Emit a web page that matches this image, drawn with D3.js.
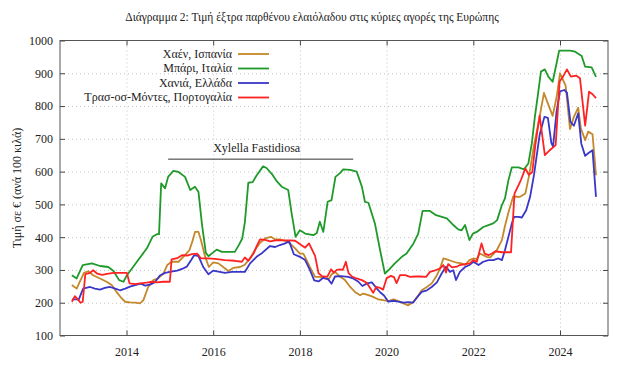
<!DOCTYPE html>
<html>
<head>
<meta charset="utf-8">
<script src="https://cdn.jsdelivr.net/npm/d3@7"></script>
<style>
body { margin: 0; background: #fff; }
svg text { font-family: "Liberation Serif", "Times New Roman", "DejaVu Serif", serif !important; fill: #222; }
.grid line { stroke: #c4c4c4; stroke-dasharray: 1,3; }
.grid path { display: none; }
.axis path { display: none; }
.axis line { stroke: #444; }
</style>
</head>
<body>
<div id="chart"></div>
<script>
// [year, price per 100 kg]
var jaen = [[2012.74,254],[2012.85,243],[2012.94,269],[2013.02,291],[2013.12,296],[2013.23,284],[2013.39,274],[2013.54,264],[2013.66,254],[2013.77,233],[2013.89,213],[2013.97,203],[2014.08,201],[2014.20,200],[2014.31,198],[2014.39,208],[2014.50,248],[2014.62,269],[2014.73,274],[2014.85,289],[2014.94,315],[2015.04,325],[2015.20,325],[2015.35,345],[2015.45,360],[2015.53,391],[2015.58,416],[2015.66,416],[2015.72,390],[2015.81,342],[2015.90,309],[2016.00,323],[2016.12,320],[2016.23,309],[2016.35,297],[2016.46,306],[2016.62,309],[2016.73,316],[2016.85,335],[2016.96,360],[2017.08,383],[2017.20,396],[2017.33,401],[2017.43,393],[2017.54,393],[2017.66,389],[2017.77,381],[2017.89,366],[2018.00,350],[2018.08,350],[2018.23,309],[2018.35,279],[2018.46,279],[2018.58,274],[2018.66,271],[2018.73,286],[2018.81,294],[2018.93,279],[2019.04,269],[2019.16,248],[2019.27,233],[2019.39,223],[2019.46,228],[2019.58,223],[2019.69,218],[2019.81,210],[2019.92,208],[2020.04,205],[2020.16,210],[2020.27,205],[2020.39,198],[2020.50,192],[2020.62,203],[2020.71,218],[2020.81,238],[2020.93,248],[2021.04,259],[2021.16,284],[2021.23,304],[2021.31,335],[2021.39,332],[2021.48,328],[2021.62,322],[2021.73,320],[2021.81,315],[2021.91,330],[2022.00,335],[2022.08,333],[2022.15,350],[2022.31,340],[2022.39,338],[2022.54,360],[2022.66,391],[2022.73,434],[2022.82,480],[2022.92,524],[2023.08,523],[2023.20,533],[2023.29,590],[2023.40,680],[2023.52,760],[2023.63,840],[2023.72,808],[2023.83,770],[2023.92,826],[2024.00,900],[2024.13,862],[2024.23,730],[2024.32,767],[2024.42,795],[2024.48,732],[2024.58,696],[2024.65,722],[2024.75,714],[2024.83,589]];

var bari = [[2012.74,284],[2012.85,274],[2012.99,315],[2013.20,320],[2013.39,312],[2013.58,309],[2013.70,297],[2013.83,269],[2013.93,264],[2014.01,284],[2014.24,325],[2014.47,366],[2014.60,401],[2014.70,409],[2014.75,409],[2014.80,564],[2014.89,549],[2014.96,584],[2015.08,602],[2015.20,599],[2015.35,584],[2015.47,544],[2015.58,554],[2015.66,538],[2015.74,440],[2015.83,352],[2015.89,342],[2016.08,362],[2016.20,355],[2016.50,355],[2016.60,378],[2016.67,396],[2016.73,445],[2016.81,566],[2016.91,568],[2017.00,588],[2017.15,616],[2017.23,611],[2017.37,590],[2017.47,570],[2017.58,554],[2017.73,544],[2017.81,472],[2017.90,401],[2018.00,421],[2018.12,411],[2018.31,406],[2018.39,413],[2018.46,447],[2018.54,416],[2018.64,508],[2018.73,513],[2018.82,584],[2018.93,596],[2019.00,607],[2019.16,605],[2019.31,600],[2019.43,554],[2019.50,508],[2019.58,505],[2019.73,442],[2019.85,360],[2019.96,289],[2020.04,299],[2020.19,320],[2020.35,340],[2020.46,350],[2020.62,381],[2020.73,411],[2020.83,480],[2021.00,480],[2021.14,467],[2021.39,457],[2021.54,437],[2021.65,424],[2021.73,421],[2021.81,437],[2021.91,391],[2021.99,411],[2022.08,416],[2022.23,431],[2022.35,437],[2022.46,442],[2022.55,452],[2022.66,498],[2022.73,518],[2022.81,574],[2022.89,613],[2023.04,613],[2023.17,607],[2023.27,625],[2023.35,686],[2023.42,767],[2023.50,844],[2023.56,905],[2023.65,912],[2023.73,890],[2023.83,874],[2023.92,930],[2023.98,969],[2024.23,969],[2024.35,966],[2024.50,953],[2024.58,920],[2024.73,918],[2024.83,889]];

var chania = [[2012.74,210],[2012.90,210],[2013.00,243],[2013.16,248],[2013.27,243],[2013.39,240],[2013.50,245],[2013.62,248],[2013.74,243],[2013.85,238],[2013.97,243],[2014.08,249],[2014.20,254],[2014.33,258],[2014.43,252],[2014.54,255],[2014.66,263],[2014.77,283],[2014.89,291],[2015.03,295],[2015.17,298],[2015.28,303],[2015.39,310],[2015.50,332],[2015.56,345],[2015.66,342],[2015.77,309],[2015.89,287],[2016.00,298],[2016.12,295],[2016.27,291],[2016.43,294],[2016.73,294],[2016.85,320],[2017.00,340],[2017.13,352],[2017.31,373],[2017.43,370],[2017.54,376],[2017.66,381],[2017.75,388],[2017.86,348],[2018.00,340],[2018.12,330],[2018.23,300],[2018.33,268],[2018.43,265],[2018.54,276],[2018.65,272],[2018.73,258],[2018.81,280],[2018.95,281],[2019.11,279],[2019.23,274],[2019.35,264],[2019.44,251],[2019.55,259],[2019.66,262],[2019.77,244],[2019.85,232],[2019.94,222],[2020.04,203],[2020.16,206],[2020.27,203],[2020.39,200],[2020.50,202],[2020.61,200],[2020.71,218],[2020.81,233],[2020.93,238],[2021.04,248],[2021.16,262],[2021.27,289],[2021.37,310],[2021.46,294],[2021.54,299],[2021.60,269],[2021.69,294],[2021.81,309],[2021.91,315],[2022.00,325],[2022.12,315],[2022.23,325],[2022.35,330],[2022.46,330],[2022.58,335],[2022.66,330],[2022.73,360],[2022.81,401],[2022.89,442],[2022.94,462],[2023.04,462],[2023.12,460],[2023.22,482],[2023.31,523],[2023.40,590],[2023.53,712],[2023.64,767],[2023.72,764],[2023.80,688],[2023.84,676],[2023.92,783],[2024.00,845],[2024.10,849],[2024.16,841],[2024.24,752],[2024.32,740],[2024.42,778],[2024.49,686],[2024.58,648],[2024.65,656],[2024.75,665],[2024.83,523]];

var tras = [[2012.74,203],[2012.81,220],[2012.89,208],[2012.94,200],[2012.99,203],[2013.05,287],[2013.16,291],[2013.23,299],[2013.32,289],[2013.44,285],[2013.55,288],[2013.70,291],[2013.85,291],[2014.01,291],[2014.07,259],[2014.20,257],[2014.31,259],[2014.47,261],[2014.59,264],[2014.70,262],[2014.84,264],[2015.00,264],[2015.04,332],[2015.17,336],[2015.28,345],[2015.40,344],[2015.51,348],[2015.63,350],[2015.72,335],[2015.86,335],[2016.04,334],[2016.27,330],[2016.50,328],[2016.66,325],[2016.73,338],[2016.81,328],[2016.93,350],[2017.00,372],[2017.08,393],[2017.20,392],[2017.31,387],[2017.47,391],[2017.62,390],[2017.77,390],[2017.89,389],[2018.03,376],[2018.12,368],[2018.21,381],[2018.28,362],[2018.35,343],[2018.43,290],[2018.51,281],[2018.63,279],[2018.72,302],[2018.78,292],[2018.85,300],[2018.93,302],[2018.99,300],[2019.06,325],[2019.12,291],[2019.20,280],[2019.31,274],[2019.43,269],[2019.54,261],[2019.62,245],[2019.69,230],[2019.76,248],[2019.85,245],[2019.92,240],[2020.00,275],[2020.10,282],[2020.17,278],[2020.23,260],[2020.31,284],[2020.43,284],[2020.54,279],[2020.66,280],[2020.77,280],[2020.91,279],[2021.00,294],[2021.12,299],[2021.23,304],[2021.31,315],[2021.37,292],[2021.42,318],[2021.51,308],[2021.62,310],[2021.69,315],[2021.81,318],[2021.92,320],[2022.00,330],[2022.08,325],[2022.13,350],[2022.19,381],[2022.26,350],[2022.35,345],[2022.43,350],[2022.51,357],[2022.66,354],[2022.87,354],[2022.95,533],[2023.03,555],[2023.10,575],[2023.20,610],[2023.28,590],[2023.36,598],[2023.43,680],[2023.53,771],[2023.65,650],[2023.77,666],[2023.90,681],[2023.99,874],[2024.07,890],[2024.16,912],[2024.25,890],[2024.37,893],[2024.46,885],[2024.58,740],[2024.67,844],[2024.75,836],[2024.83,824]];

var seriesNames = ["Χαέν, Ισπανία", "Μπάρι, Ιταλία", "Χανιά, Ελλάδα", "Τρασ-οσ-Μόντες, Πορτογαλία"];
var seriesColors = ["#c4882a", "#1f9a2a", "#3a36c8", "#ff2222"];
var seriesData = [jaen, bari, chania, tras];

var yTicks = [100, 200, 300, 400, 500, 600, 700, 800, 900, 1000];
var xTicks = [2014, 2016, 2018, 2020, 2022, 2024];

var xylellaSpan = [2014.96, 2019.23];
var xylellaLevel = 638;

var serif = "'Liberation Serif', 'Times New Roman', 'DejaVu Serif', serif";
var width = 624, height = 365;
var plotL = 60, plotR = 608, plotT = 40.5, plotB = 335.5;

var svg = d3.select("#chart").append("svg")
    .attr("width", width)
    .attr("height", height)
    .attr("font-family", serif);

var x = d3.scaleLinear().domain([2012.466, 2025.107]).range([plotL, plotR]);
var y = d3.scaleLinear().domain([100, 1000]).range([plotB, plotT]);

// grid
svg.append("g").attr("class", "grid")
    .attr("transform", "translate(" + plotL + ",0)")
    .call(d3.axisLeft(y).tickValues(yTicks.slice(1, -1)).tickSize(-(plotR - plotL)).tickFormat(""));
svg.append("g").attr("class", "grid")
    .attr("transform", "translate(0," + plotB + ")")
    .call(d3.axisBottom(x).tickValues(xTicks).tickSize(-(plotB - plotT)).tickFormat(""));

// axes (ticks point inward, mirrored on top and right)
svg.append("g").attr("class", "axis")
    .attr("transform", "translate(" + plotL + ",0)")
    .call(d3.axisLeft(y).tickValues(yTicks).tickSizeInner(-5).tickSizeOuter(0).tickPadding(7).tickFormat(d3.format("d")));
svg.append("g").attr("class", "axis")
    .attr("transform", "translate(" + plotR + ",0)")
    .call(d3.axisRight(y).tickValues(yTicks).tickSizeInner(-5).tickSizeOuter(0).tickFormat(""));
svg.append("g").attr("class", "axis")
    .attr("transform", "translate(0," + plotB + ")")
    .call(d3.axisBottom(x).tickValues(xTicks).tickSizeInner(-5).tickSizeOuter(0).tickPadding(12).tickFormat(d3.format("d")));
svg.append("g").attr("class", "axis")
    .attr("transform", "translate(0," + plotT + ")")
    .call(d3.axisTop(x).tickValues(xTicks).tickSizeInner(-5).tickSizeOuter(0).tickFormat(""));

svg.selectAll(".axis").attr("font-family", serif).attr("font-size", 12);

// frame
svg.append("rect")
    .attr("x", plotL).attr("y", plotT)
    .attr("width", plotR - plotL).attr("height", plotB - plotT)
    .attr("fill", "none").attr("stroke", "#555").attr("stroke-width", 1);

// series
var line = d3.line()
    .x(function(d) { return x(d[0]); })
    .y(function(d) { return y(d[1]); });

svg.selectAll(".series")
  .data(seriesData)
  .enter().append("path")
    .attr("class", "series")
    .attr("d", line)
    .attr("fill", "none")
    .attr("stroke", function(d, i) { return seriesColors[i]; })
    .attr("stroke-width", 1.8)
    .attr("stroke-linejoin", "round");

// Xylella annotation
svg.append("line")
    .attr("x1", x(xylellaSpan[0])).attr("x2", x(xylellaSpan[1]))
    .attr("y1", y(xylellaLevel)).attr("y2", y(xylellaLevel))
    .attr("stroke", "#333").attr("stroke-width", 1);
svg.append("text")
    .attr("x", x((xylellaSpan[0] + xylellaSpan[1]) / 2) - 4)
    .attr("y", y(xylellaLevel) - 7)
    .attr("text-anchor", "middle")
    .attr("font-size", 12)
    .text("Xylella Fastidiosa");

// legend
var legend = svg.selectAll(".legend")
  .data(seriesNames)
  .enter().append("g")
    .attr("class", "legend")
    .attr("transform", function(d, i) { return "translate(0," + (54 + i * 14.5) + ")"; });

legend.append("text")
    .attr("x", 232).attr("dy", "0.33em")
    .attr("text-anchor", "end")
    .attr("font-size", 12)
    .text(function(d) { return d; });

legend.append("line")
    .attr("x1", 238).attr("x2", 269)
    .attr("stroke", function(d, i) { return seriesColors[i]; })
    .attr("stroke-width", 1.8);

// title and y label
svg.append("text")
    .attr("x", width / 2).attr("y", 21)
    .attr("text-anchor", "middle")
    .attr("font-size", 11.5)
    .text("Διάγραμμα 2: Τιμή έξτρα παρθένου ελαιόλαδου στις κύριες αγορές της Ευρώπης");

svg.append("text")
    .attr("transform", "translate(17,188) rotate(-90)")
    .attr("text-anchor", "middle")
    .attr("dy", "0.33em")
    .attr("font-size", 12)
    .text("Τιμή σε € (ανά 100 κιλά)");
</script>
</body>
</html>
